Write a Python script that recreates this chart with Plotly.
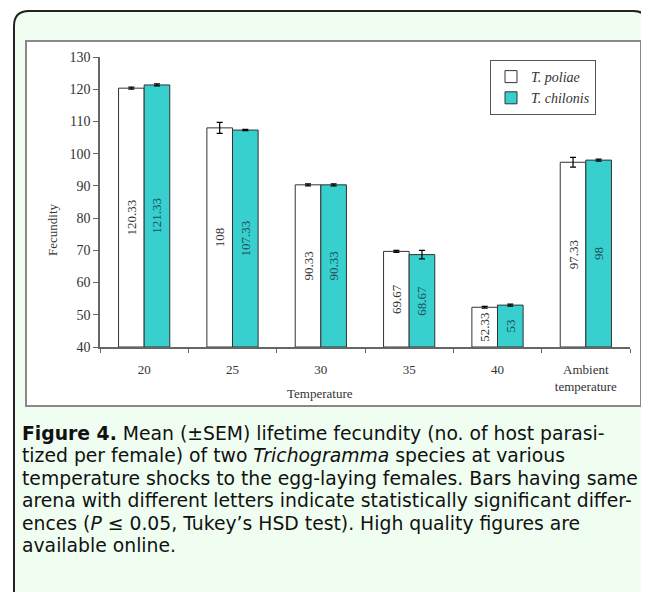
import plotly.graph_objects as go

categories = ["20", "25", "30", "35", "40", "Ambient<br>temperature"]
poliae_mean = [120.33, 108, 90.33, 69.67, 52.33, 97.33]
poliae_sem = [0.3, 1.7, 0.3, 0.3, 0.3, 1.5]
chilonis_mean = [121.33, 107.33, 90.33, 68.67, 53, 98]
chilonis_sem = [0.3, 0.2, 0.3, 1.3, 0.3, 0.3]
poliae_labels = ["120.33", "108", "90.33", "69.67", "52.33", "97.33"]
chilonis_labels = ["121.33", "107.33", "90.33", "68.67", "53", "98"]
y_ticks = [40, 50, 60, 70, 80, 90, 100, 110, 120, 130]
AXIS_MIN, AXIS_MAX = 40, 130

OFF = 8  # default page body margin
W, H = 649 - OFF, 592 - OFF
# plot area, in page pixels
L, R, T, B = 100, 630, 57, 347


def px(x):
    return (x - L) / (R - L)


def py(y):
    return (B - y) / (B - T)


SERIF = "Liberation Serif, Times New Roman, serif"
SANS = "DejaVu Sans, Open Sans, sans-serif"

fig = go.Figure()
fig.add_trace(go.Bar(
    name="<i>T. poliae</i>", x=categories,
    y=[v - AXIS_MIN for v in poliae_mean], base=AXIS_MIN,
    marker=dict(color="white", line=dict(color="#333", width=1)),
    error_y=dict(type="data", array=poliae_sem, color="black", thickness=1.2, width=3),
    text=poliae_labels, textposition="inside", insidetextanchor="middle", textangle=-90,
    textfont=dict(family=SERIF, size=13, color="#333"),
))
fig.add_trace(go.Bar(
    name="<i>T. chilonis</i>", x=categories,
    y=[v - AXIS_MIN for v in chilonis_mean], base=AXIS_MIN,
    marker=dict(color="#38CFCF", line=dict(color="#333", width=1)),
    error_y=dict(type="data", array=chilonis_sem, color="black", thickness=1.2, width=3),
    text=chilonis_labels, textposition="inside", insidetextanchor="middle", textangle=-90,
    textfont=dict(family=SERIF, size=13, color="#1d4f5c"),
))

shapes = []
# outer green panel with rounded top corners
x0, x1 = px(14), px(648)
y0, y1 = py(11), py(610)
rx, ry = 15 / (R - L), 15 / (B - T)
path = (f"M {x0},{y1} L {x0},{y0 - ry} Q {x0},{y0} {x0 + rx},{y0} "
        f"L {x1 - rx},{y0} Q {x1},{y0} {x1},{y0 - ry} L {x1},{y1}")
shapes.append(dict(type="path", xref="paper", yref="paper", path=path,
                   fillcolor="#EFFEF1", line=dict(color="#222", width=2), layer="below"))
# inner white chart frame
shapes.append(dict(type="rect", xref="paper", yref="paper",
                   x0=px(26), x1=px(641), y0=py(41), y1=py(406),
                   fillcolor="white", line=dict(color="#888", width=2), layer="below"))

annotations = [
    dict(text="Temperature", x=px(320), y=py(393), xref="paper", yref="paper",
         showarrow=False, xanchor="center", yanchor="middle",
         font=dict(family=SERIF, size=13, color="#333")),
    dict(text="Fecundity", x=px(52), y=py(230), xref="paper", yref="paper",
         showarrow=False, textangle=-90, xanchor="center", yanchor="middle",
         font=dict(family=SERIF, size=13, color="#333")),
]
caption = [
    "<b>Figure 4.</b> Mean (±SEM) lifetime fecundity (no. of host parasi-",
    "tized per female) of two <i>Trichogramma</i> species at various",
    "temperature shocks to the egg-laying females. Bars having same",
    "arena with different letters indicate statistically significant differ-",
    "ences (<i>P</i> ≤ 0.05, Tukey’s HSD test). High quality figures are",
    "available online.",
]
for i, line in enumerate(caption):
    annotations.append(dict(text=line, x=px(21), y=py(433 + 22.5 * i), xref="paper", yref="paper",
                            showarrow=False, xanchor="left", yanchor="middle", borderpad=0,
                            font=dict(family=SANS, size=18.8, color="#111")))

fig.update_layout(
    width=W, height=H,
    margin=dict(l=L - OFF, r=W - (R - OFF), t=T - OFF, b=H - (B - OFF), pad=0),
    paper_bgcolor="white", plot_bgcolor="rgba(0,0,0,0)",
    barmode="group", bargap=0.42, bargroupgap=0,
    showlegend=True,
    legend=dict(x=px(490), y=py(60), xanchor="left", yanchor="top",
                bgcolor="white", bordercolor="#555", borderwidth=1,
                font=dict(family=SERIF, size=14, color="#333"),
                traceorder="normal", tracegroupgap=2, itemwidth=30),
    shapes=shapes, annotations=annotations,
    xaxis=dict(type="category", showline=True, linecolor="#666", linewidth=1.5,
               ticks="outside", tickson="boundaries", ticklen=4, tickcolor="#666",
               tickfont=dict(family=SERIF, size=13, color="#333"), ticklabelstandoff=10,
               showgrid=False, zeroline=False, fixedrange=True),
    yaxis=dict(range=[AXIS_MIN, AXIS_MAX], tickvals=y_ticks, showline=True, linecolor="#666",
               linewidth=1.5, ticks="outside", ticklen=5, tickcolor="#666",
               tickfont=dict(family=SERIF, size=14, color="#333"),
               showgrid=False, zeroline=False, fixedrange=True),
)

fig.write_html("out.html")
